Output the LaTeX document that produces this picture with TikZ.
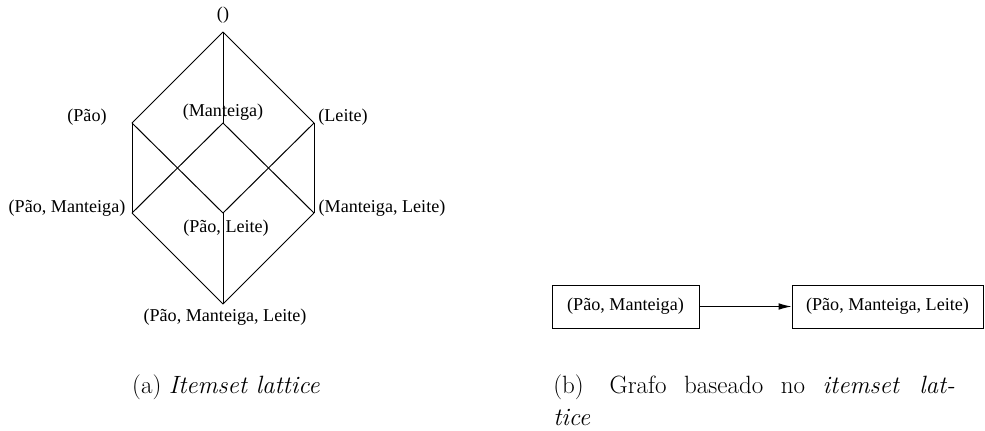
\documentclass[tikz,border=0pt]{standalone}
\usepackage{fontspec}
\newfontfamily\timesfont{Liberation Serif}
\usetikzlibrary{arrows.meta}
\newcommand\lblfont{\timesfont\fontsize{10.86}{13}\selectfont}
\newcommand\capfont{\fontsize{15}{19.5}\selectfont}
\begin{document}
\begin{tikzpicture}[x=0.6pt,y=-0.6pt,
  edge/.style={line width=0.6pt},
  lbl/.style={font=\lblfont, inner sep=0pt},
  setbox/.style={draw, line width=0.6pt, font=\lblfont, inner sep=0pt,
                 minimum height=43*0.6pt},
  captext/.style={font=\capfont, inner sep=0pt}]
\useasboundingbox (0,0) rectangle (985,430);

% lattice vertices
\coordinate (top) at (223,32);
\coordinate (p)   at (132,123);
\coordinate (m)   at (223,123);
\coordinate (l)   at (314,123);
\coordinate (pm)  at (132,213);
\coordinate (pl)  at (223,213);
\coordinate (ml)  at (314,213);
\coordinate (pml) at (223,304);

% lattice edges
\draw[edge] (top) -- (p);
\draw[edge] (top) -- (m);
\draw[edge] (top) -- (l);
\draw[edge] (p) -- (pm);
\draw[edge] (p) -- (pl);
\draw[edge] (m) -- (pm);
\draw[edge] (m) -- (ml);
\draw[edge] (l) -- (pl);
\draw[edge] (l) -- (ml);
\draw[edge] (pm) -- (pml);
\draw[edge] (pl) -- (pml);
\draw[edge] (ml) -- (pml);

% lattice labels
\node[lbl] (ltop) at (223,15)  {()};
\node[lbl] (lp)   at (87,117)  {(Pão)};
\node[lbl] (lm)   at (223,112) {(Manteiga)};
\node[lbl] (ll)   at (343,117) {(Leite)};
\node[lbl] (lpm)  at (67,208)  {(Pão, Manteiga)};
\node[lbl] (lml)  at (382,208) {(Manteiga, Leite)};
\node[lbl] (lpl)  at (226,228) {(Pão, Leite)};
\node[lbl] (lpml) at (225,317) {(Pão, Manteiga, Leite)};

% graph over the lattice
\node[setbox, minimum width=147*0.6pt] (b1) at (625.5,306.5) {(Pão, Manteiga)};
\node[setbox, minimum width=191*0.6pt] (b2) at (887.5,306.5) {(Pão, Manteiga, Leite)};
\draw[edge, -{Latex[length=7.8pt,width=4pt]}] (b1) -- (b2);

% captions
\node[captext, anchor=base] (capa) at (226,393) {(a) \textit{Itemset lattice}};
\node[captext, anchor=north west, text width=241pt, align=justify] (capb) at (553,374.25)
  {(b)\hspace{5pt} Grafo baseado no \textit{itemset lat-}\linebreak\textit{tice}};
\end{tikzpicture}
\end{document}
